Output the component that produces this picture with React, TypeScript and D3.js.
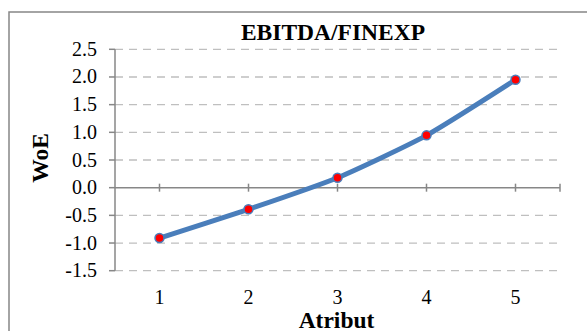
import React from "react";
import * as d3 from "d3";

const categories = ["1", "2", "3", "4", "5"];
const woeValues = [-0.91, -0.39, 0.18, 0.945, 1.95];
const yTicks = [-1.5, -1.0, -0.5, 0.0, 0.5, 1.0, 1.5, 2.0, 2.5];
const title = "EBITDA/FINEXP";
const xTitle = "Atribut";
const yTitle = "WoE";

export default function App() {
  const W = 587, H = 331;
  const left = 115, right = 560, top = 49.3, bottom = 270.7;
  const font = "'Liberation Serif', 'Times New Roman', serif";

  const x = d3.scaleBand<string>().domain(categories).range([left, right]).padding(0);
  const y = d3.scaleLinear().domain([-1.5, 2.5]).range([bottom, top]);
  const cx = (c: string) => (x(c) as number) + x.bandwidth() / 2;
  const fmt = (t: number) => d3.format(".1f")(t).replace("\u2212", "-");

  const pts: [number, number][] = categories.map((c, i) => [cx(c), y(woeValues[i])]);
  const line = d3.line<[number, number]>().x(d => d[0]).y(d => d[1]).curve(d3.curveCardinal.tension(0.4));
  const y0 = y(0);
  const xTickPos = [...categories.map(cx), right];

  return (
    <svg width={W} height={H} style={{ position: "absolute", left: 0, top: 0, background: "#fff" }}>
      <rect x={9} y={12} width={600} height={400} fill="#fff" stroke="#878787" strokeWidth={1.5} />
      {yTicks.filter(t => t !== 0).map(t => (
        <line key={"g" + t} x1={left} x2={right} y1={y(t)} y2={y(t)} stroke="#bfbfbf" strokeWidth={1.3} strokeDasharray="8,6" />
      ))}
      <line x1={left} x2={left} y1={top} y2={bottom} stroke="#878787" strokeWidth={1.5} />
      {yTicks.map(t => (
        <g key={"yt" + t}>
          <line x1={left - 6} x2={left} y1={y(t)} y2={y(t)} stroke="#878787" strokeWidth={1.5} />
          <text x={97} y={y(t) + 6.5} textAnchor="end" fontFamily={font} fontSize={20} fill="#000">
            {fmt(t)}
          </text>
        </g>
      ))}
      <line x1={left} x2={right} y1={y0} y2={y0} stroke="#878787" strokeWidth={1.5} />
      {xTickPos.map((p, i) => (
        <line key={"xt" + i} x1={p} x2={p} y1={y0 - 4} y2={y0 + 4} stroke="#878787" strokeWidth={1.5} />
      ))}
      {categories.map(c => (
        <text key={"xl" + c} x={cx(c)} y={304} textAnchor="middle" fontFamily={font} fontSize={20} fill="#000">{c}</text>
      ))}
      <path d={line(pts) || ""} fill="none" stroke="#4a7ebb" strokeWidth={5} strokeLinejoin="round" strokeLinecap="round" />
      {pts.map((p, i) => (
        <circle key={"m" + i} cx={p[0]} cy={p[1]} r={4.5} fill="#ff0000" stroke="#4a7ebb" strokeWidth={1.5} />
      ))}
      <text x={333} y={39.5} textAnchor="middle" fontFamily={font} fontSize={23.5} fontWeight="bold" fill="#000">{title}</text>
      <text x={336.5} y={327.5} textAnchor="middle" fontFamily={font} fontSize={23.5} fontWeight="bold" fill="#000">{xTitle}</text>
      <text transform="translate(48,158) rotate(-90)" textAnchor="middle" fontFamily={font} fontSize={23.5} fontWeight="bold" fill="#000">{yTitle}</text>
    </svg>
  );
}
